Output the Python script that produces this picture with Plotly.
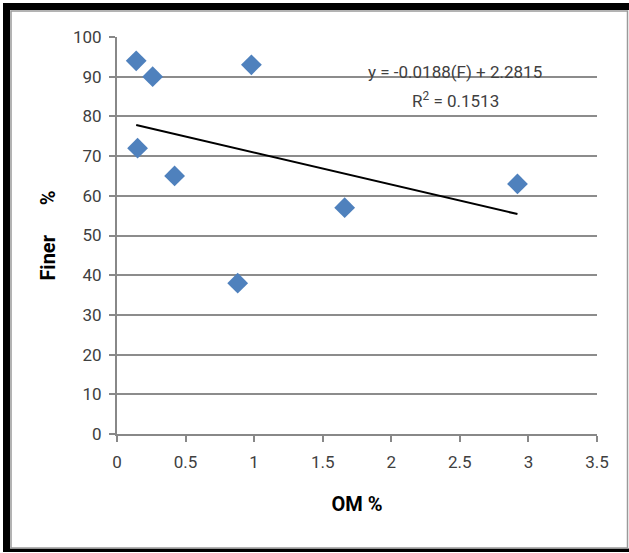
import numpy as np
import plotly.graph_objects as go

om_pct = [0.14, 0.26, 0.98, 0.15, 0.42, 0.88, 1.66, 2.92]
finer_pct = [94, 90, 93, 72, 65, 38, 57, 63]
x_ticks = [0, 0.5, 1, 1.5, 2, 2.5, 3, 3.5]
x_tick_labels = ["0", "0.5", "1", "1.5", "2", "2.5", "3", "3.5"]
y_ticks = [0, 10, 20, 30, 40, 50, 60, 70, 80, 90, 100]
eq_text = "y = -0.0188(F) + 2.2815"
r2_text = "R<sup>2</sup> = 0.1513"

W, H = 629, 553
L, R, T, B = 117, 32, 37, 119
PW, PH = W - L - R, H - T - B

def px(x):
    return (x - L) / PW

def py(y):
    return (H - B - y) / PH

slope, intercept = np.polyfit(om_pct, finer_pct, 1)
tx = np.array([min(om_pct), max(om_pct)])
ty = slope * tx + intercept

FONT = "Roboto, sans-serif"

fig = go.Figure()
fig.add_trace(go.Scatter(x=tx, y=ty, mode="lines",
                         line=dict(color="black", width=2), showlegend=False,
                         hoverinfo="skip"))
fig.add_trace(go.Scatter(x=om_pct, y=finer_pct, mode="markers",
                         marker=dict(symbol="diamond", size=16, color="#4F81BD",
                                     line=dict(width=0)),
                         showlegend=False))

shapes = [
    dict(type="rect", xref="paper", yref="paper", x0=px(3), x1=px(629), y0=py(3), y1=py(10),
         fillcolor="black", line=dict(width=0)),
    dict(type="rect", xref="paper", yref="paper", x0=px(3), x1=px(10), y0=py(3), y1=py(552),
         fillcolor="black", line=dict(width=0)),
    dict(type="rect", xref="paper", yref="paper", x0=px(3), x1=px(629), y0=py(548.5), y1=py(552),
         fillcolor="black", line=dict(width=0)),
    dict(type="rect", xref="paper", yref="paper", x0=px(11), x1=px(627.5), y0=py(11), y1=py(548),
         fillcolor="rgba(0,0,0,0)", line=dict(color="#9a9a9a", width=1.5)),
]

fig.update_layout(
    width=W, height=H,
    margin=dict(l=L, r=R, t=T, b=B),
    paper_bgcolor="white", plot_bgcolor="white",
    font=dict(family=FONT, size=17, color="#404040"),
    shapes=shapes,
    xaxis=dict(range=[0, 3.5], tickvals=x_ticks, ticktext=x_tick_labels,
               showgrid=False, zeroline=False, showline=True, linecolor="#888888",
               linewidth=2, ticks="outside", ticklen=6, tickcolor="#888888", tickwidth=2,
               ticklabelstandoff=6,
               tickfont=dict(size=17, color="#404040", family=FONT),
               title=dict(text="<b>OM %</b>", font=dict(size=20, color="black", family=FONT),
                          standoff=26)),
    yaxis=dict(range=[0, 100], tickvals=y_ticks,
               showgrid=True, gridcolor="#8c8c8c", gridwidth=2, zeroline=False,
               showline=True, linecolor="#888888", linewidth=2,
               ticks="outside", ticklen=6, tickcolor="#888888", tickwidth=2,
               ticklabelstandoff=4,
               tickfont=dict(size=17, color="#404040", family=FONT),
               title=dict(text="<b>Finer      %</b>", font=dict(size=20, color="black", family=FONT),
                          standoff=12)),
    annotations=[
        dict(xref="paper", yref="paper", x=px(455), y=py(72), text=eq_text, showarrow=False,
             font=dict(size=17, color="#404040", family=FONT), xanchor="center", yanchor="middle"),
        dict(xref="paper", yref="paper", x=px(455), y=py(100), text=r2_text, showarrow=False,
             font=dict(size=17, color="#404040", family=FONT), xanchor="center", yanchor="middle"),
    ],
)

fig.write_html("out.html", config={"displayModeBar": False},
               post_script="document.body.style.margin='0';")
